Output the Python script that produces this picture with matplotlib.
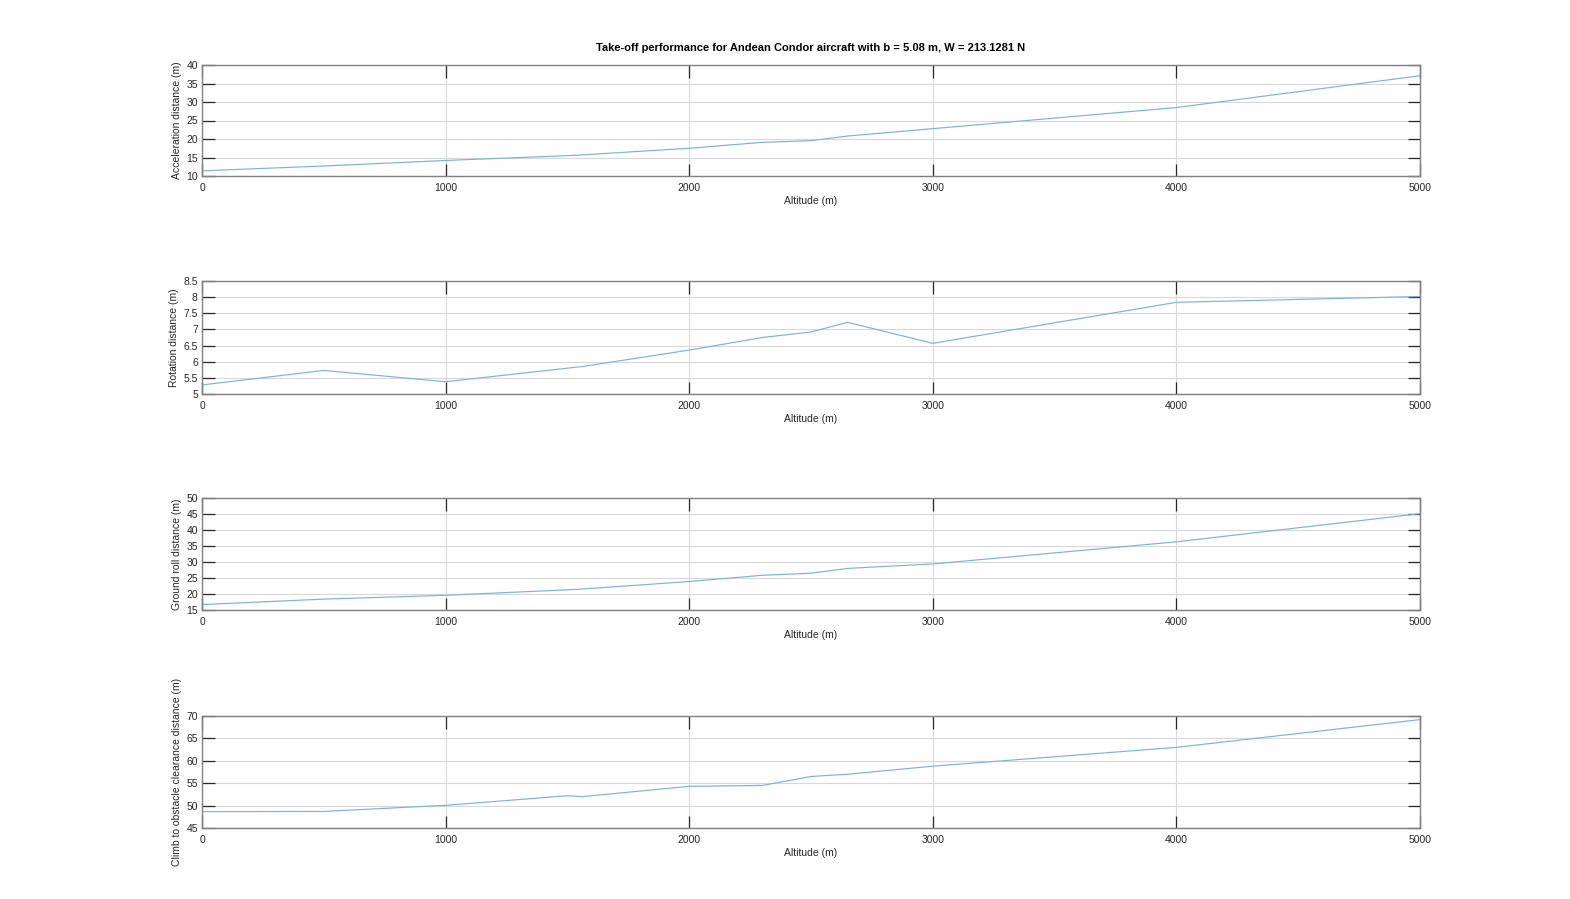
import matplotlib
matplotlib.use("Agg")
import matplotlib.pyplot as plt
import numpy as np

altitude = [0, 500, 1000, 1500, 1560, 2000, 2300, 2500, 2650, 3000, 4000, 5000]
accel_dist = [11.4, 12.7, 14.2, 15.5, 15.7, 17.5, 19.1, 19.55, 20.8, 22.8, 28.5, 37.1]
rotation_dist = [5.28, 5.73, 5.38, 5.80, 5.85, 6.36, 6.75, 6.92, 7.22, 6.57, 7.84, 8.02]
ground_roll = [16.7, 18.4, 19.6, 21.3, 21.55, 23.9, 25.85, 26.5, 28.0, 29.4, 36.3, 45.1]
climb_dist = [48.65, 48.7, 50.06, 52.2, 52.0, 54.3, 54.5, 56.5, 57.0, 58.8, 63.0, 69.2]

ylabels = ["Acceleration distance (m)", "Rotation distance (m)",
           "Ground roll distance (m)", "Climb to obstacle clearance distance (m)"]
series = [accel_dist, rotation_dist, ground_roll, climb_dist]
ylims = [(10, 40), (5, 8.5), (15, 50), (45, 70)]
ysteps = [5, 0.5, 5, 5]
xticks = [0, 1000, 2000, 3000, 4000, 5000]
title = "Take-off performance for Andean Condor aircraft with b = 5.08 m, W = 213.1281 N"

plt.rcParams['font.family'] = ['Liberation Sans', 'DejaVu Sans']

W, H = 1570, 899
fig = plt.figure(figsize=(W / 100, H / 100), dpi=100)

boxes = [(65, 176), (281, 394), (498, 610), (716, 828)]
left_px, right_px = 202, 1420

for i, (top, bot) in enumerate(boxes):
    ax = fig.add_axes([left_px / W, 1 - bot / H, (right_px - left_px) / W, (bot - top) / H])
    ax.plot(altitude, series[i], color='#7ab3de', lw=0.85)
    ax.set_xlim(0, 5000)
    ax.set_ylim(*ylims[i])
    ax.set_xticks(xticks)
    lo, hi = ylims[i]
    yt = np.arange(lo, hi + ysteps[i] / 2, ysteps[i])
    ax.set_yticks(yt)
    ax.set_yticklabels([('%g' % v) for v in yt])
    ax.grid(True, color='#d8d8d8', lw=0.8)
    ax.set_axisbelow(True)
    ax.tick_params(direction='in', length=9, width=0.9, color='#262626',
                   labelsize=7.5, labelcolor='#262626', top=True, right=True)
    ax.tick_params(axis='x', pad=5)
    ax.tick_params(axis='y', pad=3)
    for s in ax.spines.values():
        s.set_color('#808080')
        s.set_linewidth(1.0)
    ax.set_xlabel("Altitude (m)", fontsize=7.5, color='#262626', labelpad=2)
    ax.set_ylabel(ylabels[i], fontsize=7.5, color='#262626', labelpad=3)
    if i == 0:
        ax.set_title(title, fontsize=8, fontweight='bold', color='#000000', pad=10)

fig.savefig("out.png", dpi=100, facecolor='white')
